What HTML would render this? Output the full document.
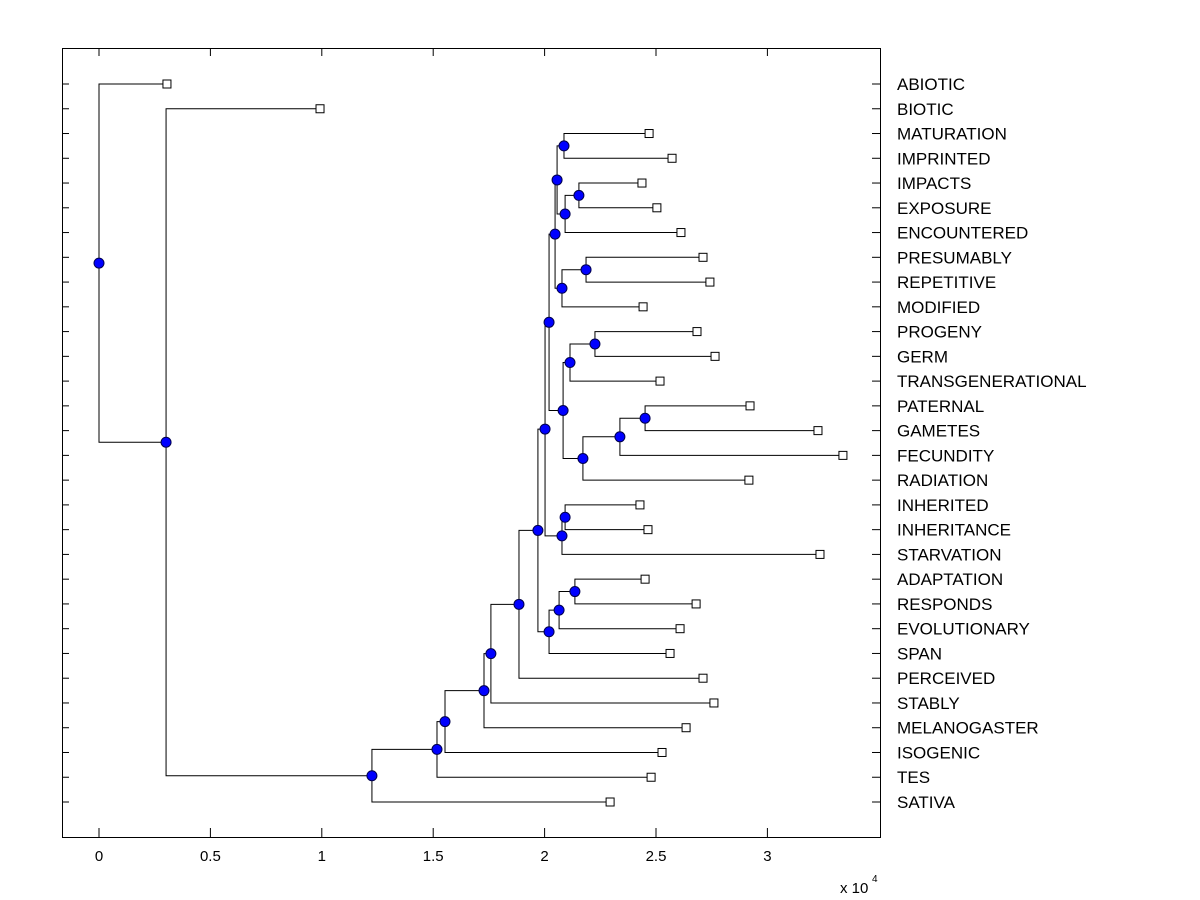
<!DOCTYPE html>
<html><head><meta charset="utf-8"><style>
html,body{margin:0;padding:0;background:#fff;}
svg{display:block;font-family:"Liberation Sans",Arial,sans-serif;}
</style></head><body>
<svg id="chart" width="1200" height="900" viewBox="0 0 1200 900">
<rect x="0" y="0" width="1200" height="900" fill="#fff"/>
<g id="lines"></g><g id="marks"></g><g id="axes"></g>
</svg>
<script>
const leafLabels = ["ABIOTIC","BIOTIC","MATURATION","IMPRINTED","IMPACTS","EXPOSURE","ENCOUNTERED","PRESUMABLY","REPETITIVE","MODIFIED","PROGENY","GERM","TRANSGENERATIONAL","PATERNAL","GAMETES","FECUNDITY","RADIATION","INHERITED","INHERITANCE","STARVATION","ADAPTATION","RESPONDS","EVOLUTIONARY","SPAN","PERCEIVED","STABLY","MELANOGASTER","ISOGENIC","TES","SATIVA"];
const leafHeights = [0.305,0.992,2.469,2.572,2.437,2.504,2.612,2.711,2.742,2.442,2.684,2.765,2.518,2.922,3.227,3.339,2.917,2.428,2.464,3.236,2.451,2.680,2.608,2.563,2.711,2.760,2.635,2.527,2.478,2.294];
// merge node ids start at 30
const mergeLeft  = [2, 4,31,30, 7,34,10,37,13,39,40,38,36,17,44,43,20,47,48,46,50,51,52,53,54,55, 1, 0];
const mergeRight = [3, 5, 6,32, 8, 9,11,12,14,15,16,41,42,18,19,45,21,22,23,49,24,25,26,27,28,29,56,57];
const mergeHeights = [2.087,2.154,2.092,2.056,2.186,2.078,2.047,2.226,2.114,2.451,2.338,2.172,2.083,2.020,2.092,2.078,2.002,2.136,2.065,2.020,1.970,1.885,1.759,1.728,1.553,1.517,1.225,0.301,0];
const xTicks = [0,0.5,1,1.5,2,2.5,3];
const xTickLabels = ["0","0.5","1","1.5","2","2.5","3"];
</script>
<script>
// Rebuild merge list cleanly (node id = 30 + index)
const M = [
 [2,3],[4,5],[31,6],[30,32],[7,8],[34,9],[33,35],[10,11],[37,12],[13,14],[39,15],[40,16],[38,41],[36,42],
 [17,18],[44,19],[43,45],[20,21],[47,22],[48,23],[46,49],[50,24],[51,25],[52,26],[53,27],[54,28],[55,29],[1,56],[0,57]
];
mergeLeft.length=0; mergeRight.length=0;
M.forEach(p=>{mergeLeft.push(p[0]);mergeRight.push(p[1]);});

const X0=62,X1=880,Y0=48,Y1=837;
const xs=v=>99+222.8*v;
const ys=i=>84+i*(802-84)/29;
const NS="http://www.w3.org/2000/svg";
function mk(tag,attrs,parent,text){const e=document.createElementNS(NS,tag);for(const k in attrs)e.setAttribute(k,attrs[k]);if(text!==undefined)e.textContent=text;parent.appendChild(e);return e;}
const gL=document.getElementById('lines'),gM=document.getElementById('marks'),gA=document.getElementById('axes');
const posX=[],posY=[];
leafHeights.forEach((h,i)=>{posX[i]=h;posY[i]=ys(i);});
mergeHeights.forEach((h,k)=>{const id=30+k;posX[id]=h;posY[id]=(posY[mergeLeft[k]]+posY[mergeRight[k]])/2;});
mergeHeights.forEach((h,k)=>{
  const a=mergeLeft[k],b=mergeRight[k],x=xs(h);
  let p=mk('path',{d:`M${xs(posX[a])},${posY[a]}H${x}V${posY[b]}H${xs(posX[b])}`,fill:'none',stroke:'#000','stroke-width':1},gL);
  
  
});
mergeHeights.forEach((h,k)=>{
  let c=mk('circle',{cx:xs(h),cy:posY[30+k],r:5,fill:'#0000ff',stroke:'#00004d','stroke-width':1},gM);
  
  
});
leafHeights.forEach((h,i)=>{
  let r=mk('rect',{x:xs(h)-4,y:ys(i)-4,width:8,height:8,fill:'#fff',stroke:'#000','stroke-width':1},gM);
  
  
  let t=mk('text',{x:897,y:ys(i)+6,'font-size':17,fill:'#000'},gA,leafLabels[i]);
  
  
  let tl=mk('line',{x1:X0,x2:X0+7,y1:ys(i),y2:ys(i),stroke:'#000'},gA);
  
  
  let tr=mk('line',{x1:X1-8,x2:X1,y1:ys(i),y2:ys(i),stroke:'#000'},gA);
  
  
});
let fr=mk('rect',{x:X0+0.5,y:Y0+0.5,width:X1-X0,height:Y1-Y0,fill:'none',stroke:'#000','stroke-width':1},gA);


xTicks.forEach((v,i)=>{
  let l=mk('line',{x1:xs(v),x2:xs(v),y1:Y1,y2:Y1-9,stroke:'#000'},gA);
  
  
  let l2=mk('line',{x1:xs(v),x2:xs(v),y1:Y0,y2:Y0+8,stroke:'#000'},gA);
  
  
  let t=mk('text',{x:xs(v),y:861,'font-size':15,'text-anchor':'middle',fill:'#000'},gA,xTickLabels[i]);
  
  
});
let ex=mk('text',{x:840,y:893,'font-size':15,fill:'#000'},gA,'x 10');


let ex2=mk('text',{x:872,y:882,'font-size':10,fill:'#000'},gA,'4');


</script>
</body></html>
